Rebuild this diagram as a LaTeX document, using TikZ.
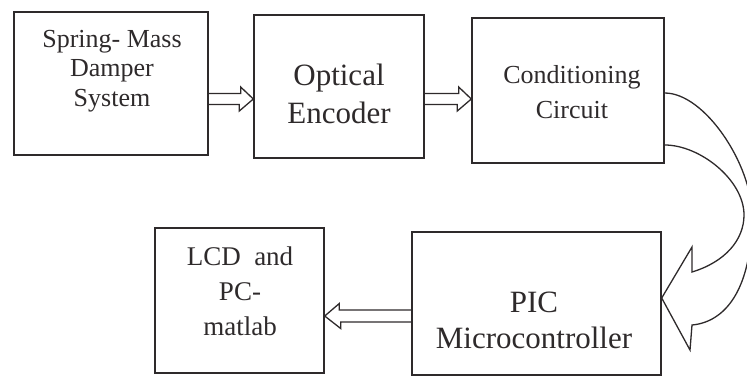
\documentclass[tikz,border=0pt]{standalone}
\usepackage{fontspec}
\setmainfont{Liberation Serif}
\usetikzlibrary{calc}
\definecolor{ink}{HTML}{2E2A2B}
\tikzset{
  box/.style={draw=ink, line width=1.4pt, rectangle, inner sep=0pt},
  txt/.style={anchor=north, inner sep=0pt, align=center, text=ink},
  conn/.style={draw=ink, line width=1.3pt, line join=miter},
}
\begin{document}
\begin{tikzpicture}[x=1pt,y=-1pt]
\useasboundingbox (0,0) rectangle (747,376);
\clip (0,0) rectangle (747,376);
% boxes
\node[box, minimum width=194, minimum height=143] (b1) at (111,83.5) {};
\node[box, minimum width=170, minimum height=143] (b2) at (339,86.5) {};
\node[box, minimum width=192, minimum height=145] (b3) at (568,90.5) {};
\node[box, minimum width=249, minimum height=143] (b4) at (536.5,303.5) {};
\node[box, minimum width=169, minimum height=145] (b5) at (239.5,300.5) {};
% texts
\node[txt, font={\fontsize{26}{29.5}\selectfont}] (t1) at (112,30) {Spring- Mass\\Damper\\System};
\node[txt, font={\fontsize{31}{38}\selectfont}] (t2) at (339,64) {Optical\\Encoder};
\node[txt, font={\fontsize{26}{35}\selectfont}] (t3) at (572,65) {Conditioning\\Circuit};
\node[txt, font={\fontsize{31}{36}\selectfont}] (t4) at (534,291.5) {PIC\\Microcontroller};
\node[txt, font={\fontsize{27}{35}\selectfont}] (t5) at (240,246.5) {LCD~ and\\PC-\\matlab};
% arrow 1 -> 2
\draw[conn] ($(b1.east|-0,99)+(0,-5.5)$) -- ++(32,0) -- ++(0,-6.5) -- (b2.west|-0,99) -- ++(-14,12) -- ++(0,-6.5) -- ++(-32,0);
% arrow 2 -> 3
\draw[conn] ($(b2.east|-0,99)+(0,-5.5)$) -- ++(34,0) -- ++(0,-6.5) -- (b3.west|-0,99) -- ++(-14,12) -- ++(0,-6.5) -- ++(-34,0);
% arrow 4 -> 5
\draw[conn] ($(b4.west|-0,316)+(0,-6)$) -- ++(-72,0) -- ++(0,-6.5) -- (b5.east|-0,316) -- ++(16,12.5) -- ++(0,-6.5) -- ++(72,0);
% curved arrow 3 -> 4
\draw[conn] (b3.east|-0,93) .. controls (705,93) and (752,165) .. (752,215)
  .. controls (752,290) and (725,322) .. (692,325) -- (690,350) -- (b4.east|-0,298)
  -- (692,247) -- (692,272) .. controls (725,262) and (744,240) .. (744,215)
  .. controls (744,180) and (700,145) .. (b3.east|-0,145);
\end{tikzpicture}
\end{document}
